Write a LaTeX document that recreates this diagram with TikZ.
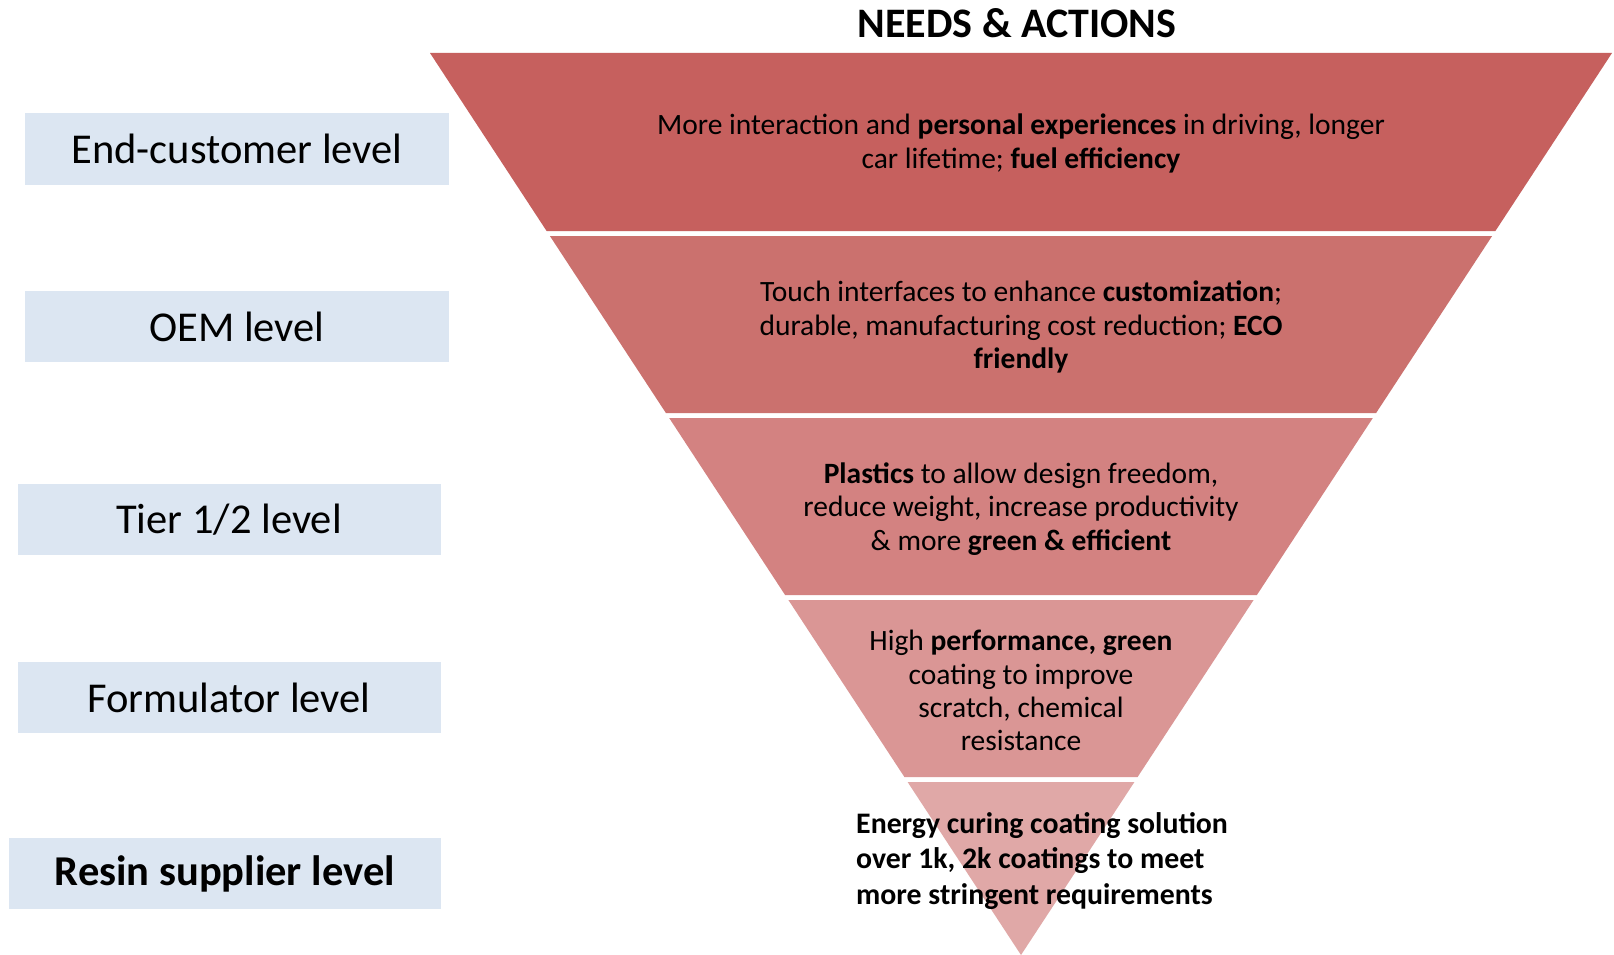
\documentclass[tikz,border=0pt]{standalone}
\usepackage{fontspec}
\setmainfont{Carlito}
\definecolor{bandA}{HTML}{C6605E}
\definecolor{bandB}{HTML}{CB716E}
\definecolor{bandC}{HTML}{D38281}
\definecolor{bandD}{HTML}{DA9695}
\definecolor{bandE}{HTML}{E0A8A7}
\definecolor{levelfill}{HTML}{DCE6F2}
\begin{document}
\begin{tikzpicture}[x=1pt,y=-1pt,
  levelbox/.style={fill=levelfill, inner sep=0pt, minimum height=71pt,
    font=\fontsize{42.5}{50}\selectfont, text=black},
  needtext/.style={align=center, inner sep=0pt, font=\fontsize{29.5}{33.2}\selectfont, text=black},
  titletext/.style={inner sep=0pt, font=\bfseries\fontsize{42}{48}\selectfont, text=black}]
\useasboundingbox (0,0) rectangle (1614,955);
\fill[white] (0,0) rectangle (1614,955);
% funnel bands
\fill[bandA] (430,53) -- (1612,53) -- (1495.4,231) -- (546.6,231) -- cycle;
\fill[bandB] (549.9,236) -- (1492.1,236) -- (1376.1,413) -- (665.9,413) -- cycle;
\fill[bandC] (669.2,418) -- (1372.8,418) -- (1256.9,595) -- (785.1,595) -- cycle;
\fill[bandD] (788.4,600) -- (1253.6,600) -- (1137.6,777) -- (904.4,777) -- cycle;
\fill[bandE] (907.6,782) -- (1134.4,782) -- (1021,955) -- cycle;
% title
\node[titletext] (title) at (1017,23) {NEEDS \& ACTIONS};
% band texts
\node[needtext] (n1) at (1021,143.5) {More interaction and \textbf{personal experiences} in driving, longer\\car lifetime; \textbf{fuel efficiency}};
\node[needtext] (n2) at (1021,327) {Touch interfaces to enhance \textbf{customization};\\durable, manufacturing cost reduction; \textbf{ECO}\\\textbf{friendly}};
\node[needtext] (n3) at (1021,509) {\textbf{Plastics} to allow design freedom,\\reduce weight, increase productivity\\\& more \textbf{green \& efficient}};
\node[needtext] (n4) at (1021,690.5) {High \textbf{performance, green}\\coating to improve\\scratch, chemical\\resistance};
\node[needtext, align=left, anchor=west, font=\bfseries\fontsize{29.8}{35.5}\selectfont] (n5) at (856,861) {Energy curing coating solution\\over 1k, 2k coatings to meet\\more stringent requirements};
% level boxes
\node[levelbox, minimum width=424pt] (l1) at (237,149) {End-customer level};
\node[levelbox, minimum width=424pt] (l2) at (237,326.5) {OEM level};
\node[levelbox, minimum width=423pt] (l3) at (229,519.5) {Tier 1/2 level};
\node[levelbox, minimum width=423pt] (l4) at (229,697.5) {Formulator level};
\node[levelbox, minimum width=431.5pt, font=\bfseries\fontsize{42.5}{50}\selectfont] (l5) at (224.75,873.5) {Resin supplier level};
\end{tikzpicture}
\end{document}
